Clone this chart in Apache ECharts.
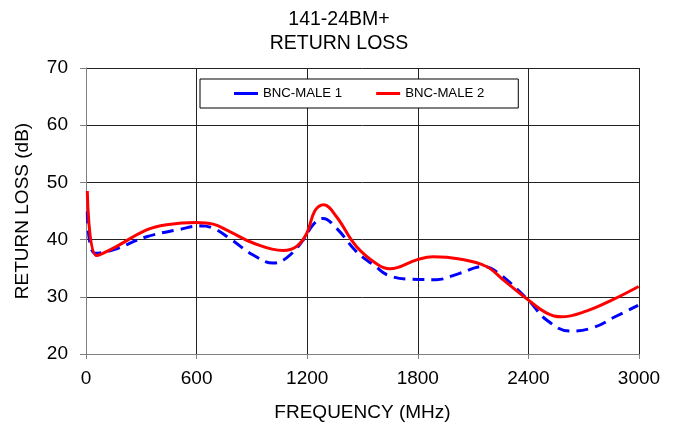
<!DOCTYPE html>
<html>
<head>
<meta charset="utf-8">
<script src="https://cdn.jsdelivr.net/npm/echarts@6/dist/echarts.min.js"></script>
<style>html,body{margin:0;padding:0;background:#fff}#c{width:678px;height:427px}</style>
</head>
<body>
<div id="c"></div>
<script>
const xTicks = [0, 600, 1200, 1800, 2400, 3000];
const yTicks = [20, 30, 40, 50, 60, 70];
const seriesNames = ['BNC-MALE 1', 'BNC-MALE 2'];
const freq1 = [7, 49, 148, 329, 510, 618, 690, 780, 907, 1015, 1088, 1178, 1232, 1286, 1359, 1467, 1575, 1630, 1738, 1901, 2027, 2153, 2226, 2397, 2497, 2623, 2750, 2876, 2995];
const loss1 = [44.9, 37.6, 38.2, 40.5, 41.8, 42.4, 42.0, 40.2, 37.3, 35.9, 36.8, 39.9, 42.6, 43.7, 42.0, 37.9, 35.2, 33.9, 33.1, 33.0, 34.1, 35.3, 34.4, 29.5, 26.0, 24.0, 24.6, 26.6, 28.5];
const freq2 = [7, 58, 148, 329, 437, 598, 690, 780, 907, 1069, 1142, 1198, 1241, 1290, 1359, 1467, 1584, 1648, 1798, 1883, 2027, 2172, 2262, 2397, 2497, 2578, 2714, 2858, 2998];
const loss2 = [48.5, 37.2, 38.5, 41.7, 42.6, 43.0, 42.7, 41.4, 39.4, 38.1, 38.8, 41.1, 45.0, 46.1, 44.0, 38.8, 35.6, 34.9, 36.5, 37.0, 36.6, 35.3, 33.0, 29.5, 27.2, 26.5, 27.5, 29.5, 31.8];

const chart = echarts.init(document.getElementById('c'));
const font = 'Liberation Sans, Arial, sans-serif';
chart.setOption({
  animation: false,
  title: {
    text: '141-24BM+\nRETURN LOSS',
    left: 'center', top: 3,
    textStyle: { fontFamily: font, fontSize: 19.5, fontWeight: 'normal', color: '#000', lineHeight: 24 }
  },
  legend: {
    left: 200, top: 79,
    padding: [8, 34, 8, 34],
    itemGap: 34,
    itemWidth: 24, itemHeight: 3,
    borderColor: '#000', borderWidth: 1, backgroundColor: '#fff',
    textStyle: { fontFamily: font, fontSize: 13.2, color: '#000' },
    data: [
      { name: seriesNames[0], icon: 'rect', itemStyle: { color: '#0000ff', borderWidth: 0 } },
      { name: seriesNames[1], icon: 'rect', itemStyle: { color: '#ff0000', borderWidth: 0 } }
    ]
  },
  grid: { left: 86, right: 39, top: 68, bottom: 73, containLabel: false },
  xAxis: {
    type: 'value', min: 0, max: 3000, interval: 600,
    name: 'FREQUENCY (MHz)', nameLocation: 'middle', nameGap: 49,
    nameTextStyle: { fontFamily: font, fontSize: 19, color: '#000' },
    axisLine: { show: true, lineStyle: { color: '#808080', width: 1 } },
    axisTick: { show: true, length: 5, lineStyle: { color: '#808080' } },
    axisLabel: { fontFamily: font, fontSize: 19, color: '#000', margin: 15,
      formatter: v => xTicks.includes(v) ? String(v) : '' },
    splitLine: { show: true, lineStyle: { color: '#222', width: 1 } }
  },
  yAxis: {
    type: 'value', min: 20, max: 70, interval: 10,
    name: 'RETURN LOSS (dB)', nameLocation: 'middle', nameGap: 54, nameRotate: 90,
    nameTextStyle: { fontFamily: font, fontSize: 19, color: '#000' },
    axisLine: { show: true, lineStyle: { color: '#808080', width: 1 } },
    axisTick: { show: true, length: 6, lineStyle: { color: '#808080' } },
    axisLabel: { fontFamily: font, fontSize: 19, color: '#000', margin: 18,
      formatter: v => yTicks.includes(v) ? String(v) : '' },
    splitLine: { show: true, lineStyle: { color: '#222', width: 1 } }
  },
  series: [
    {
      name: seriesNames[0], type: 'line', smooth: 0.4, symbol: 'none',
      data: freq1.map((f, i) => [f, loss1[i]]),
      lineStyle: { color: '#0000ff', width: 3, type: [12, 7] },
      itemStyle: { color: '#0000ff' }, z: 2
    },
    {
      name: seriesNames[1], type: 'line', smooth: 0.4, symbol: 'none',
      data: freq2.map((f, i) => [f, loss2[i]]),
      lineStyle: { color: '#ff0000', width: 3 },
      itemStyle: { color: '#ff0000' }, z: 3
    }
  ]
});
</script>
</body>
</html>
